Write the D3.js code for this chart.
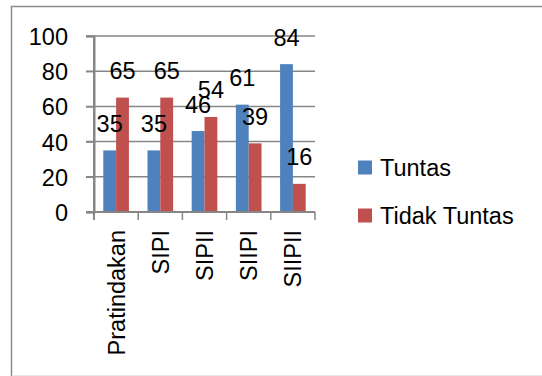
<!DOCTYPE html>
<html>
<head>
<meta charset="utf-8">
<script src="https://cdn.jsdelivr.net/npm/d3@7/dist/d3.min.js"></script>
<style>
  html, body { margin: 0; padding: 0; background: #fff; }
  svg { display: block; }
  text { font-family: "Liberation Sans", Arial, sans-serif; font-size: 23.5px; fill: #000; }
</style>
</head>
<body>
<svg id="chart" width="542" height="376"></svg>
<script>
const categories = ["Pratindakan", "SIPI", "SIPII", "SIIPI", "SIIPII"];
const seriesNames = ["Tuntas", "Tidak Tuntas"];
const tuntas = [35, 35, 46, 61, 84];
const tidakTuntas = [65, 65, 54, 39, 16];
const yTicks = [0, 20, 40, 60, 80, 100];
const colors = ["#4f81bd", "#c0504d"];

const svg = d3.select("#chart");

// outer chart frame (runs off the right edge like the screenshot)
svg.append("rect")
    .attr("x", 11.5).attr("y", 6.5)
    .attr("width", 560).attr("height", 380)
    .attr("fill", "none")
    .attr("stroke", "#8c8c8c")
    .attr("stroke-width", 1.5);
svg.append("line")
    .attr("x1", 12).attr("x2", 542)
    .attr("y1", 375.5).attr("y2", 375.5)
    .attr("stroke", "#e8e8e8");

const plot = { left: 94, right: 315, top: 36, bottom: 212 };

const x0 = d3.scaleBand()
    .domain(categories)
    .range([plot.left, plot.right])
    .padding(0);

const x1 = d3.scaleBand()
    .domain(seriesNames)
    .range([x0.bandwidth() * 0.21, x0.bandwidth() * 0.79])
    .padding(0);

const y = d3.scaleLinear()
    .domain([0, 100])
    .range([plot.bottom, plot.top]);

// gridlines + left ticks
svg.append("g")
    .selectAll("line")
    .data(yTicks.filter(d => d > 0))
    .enter()
    .append("line")
    .attr("x1", plot.left - 8)
    .attr("x2", plot.right)
    .attr("y1", d => y(d))
    .attr("y2", d => y(d))
    .attr("stroke", "#868686")
    .attr("stroke-width", 1.5);

// bars
const rows = categories.map((c, i) => ({ cat: c, values: [tuntas[i], tidakTuntas[i]] }));

const groups = svg.append("g")
    .selectAll("g")
    .data(rows)
    .enter()
    .append("g")
    .attr("transform", d => `translate(${x0(d.cat)},0)`);

groups.selectAll("rect")
    .data(d => d.values.map((v, j) => ({ name: seriesNames[j], value: v, j })))
    .enter()
    .append("rect")
    .attr("x", d => x1(d.name))
    .attr("width", x1.bandwidth())
    .attr("y", d => y(d.value))
    .attr("height", d => y(0) - y(d.value))
    .attr("fill", d => colors[d.j]);

// value labels
groups.selectAll("text")
    .data(d => d.values.map((v, j) => ({ name: seriesNames[j], value: v })))
    .enter()
    .append("text")
    .attr("x", d => x1(d.name) + x1.bandwidth() / 2)
    .attr("y", d => y(d.value) - 18.5)
    .attr("text-anchor", "middle")
    .text(d => d.value);

// y axis
const yAxis = svg.append("g")
    .attr("transform", `translate(${plot.left},0)`)
    .call(d3.axisLeft(y).tickValues(yTicks).tickSize(8).tickPadding(18));
yAxis.select(".domain").attr("stroke", "#868686").attr("stroke-width", 2);
yAxis.selectAll(".tick line").attr("stroke", "#868686").attr("stroke-width", 1.5);
yAxis.selectAll(".tick text")
    .attr("font-family", null).attr("font-size", null)
    .attr("dy", "0.36em");

// x axis baseline with ticks at band boundaries
const xg = svg.append("g");
xg.append("line")
    .attr("x1", plot.left - 8).attr("x2", plot.right)
    .attr("y1", y(0)).attr("y2", y(0))
    .attr("stroke", "#868686").attr("stroke-width", 2);
xg.selectAll(".btick")
    .data(categories.concat([null]))
    .enter()
    .append("line")
    .attr("class", "btick")
    .attr("x1", (d, i) => plot.left + i * x0.bandwidth())
    .attr("x2", (d, i) => plot.left + i * x0.bandwidth())
    .attr("y1", y(0)).attr("y2", y(0) + 8)
    .attr("stroke", "#868686").attr("stroke-width", 1.5);
svg.append("line")
    .attr("x1", plot.left).attr("x2", plot.left)
    .attr("y1", plot.top).attr("y2", y(0) + 8)
    .attr("stroke", "#868686").attr("stroke-width", 2);

// rotated category labels
xg.selectAll(".cat")
    .data(categories)
    .enter()
    .append("text")
    .attr("class", "cat")
    .attr("transform", d => `translate(${x0(d) + x0.bandwidth() / 2},230) rotate(-90)`)
    .attr("text-anchor", "end")
    .attr("dy", "0.36em")
    .text(d => d);

// legend
const legend = svg.append("g")
    .selectAll("g")
    .data(seriesNames)
    .enter()
    .append("g")
    .attr("transform", (d, i) => `translate(358,${167.5 + i * 48})`);
legend.append("rect")
    .attr("x", 0).attr("y", -7)
    .attr("width", 14).attr("height", 14)
    .attr("fill", (d, i) => colors[i]);
legend.append("text")
    .attr("x", 22)
    .attr("dy", "0.36em")
    .text(d => d);
</script>
</body>
</html>
